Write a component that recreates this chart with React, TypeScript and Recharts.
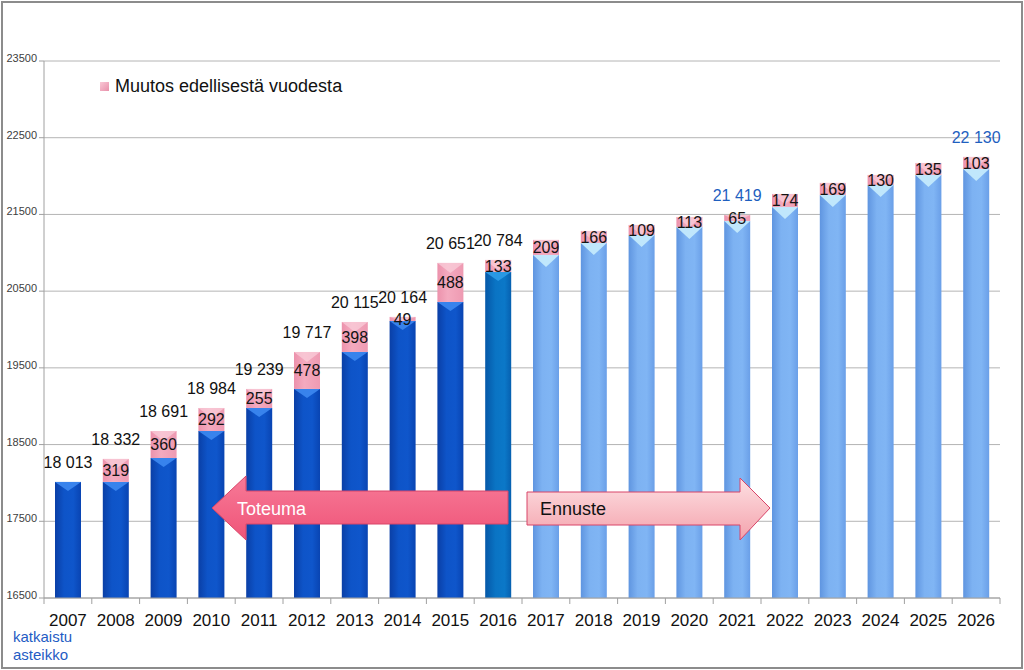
import React from 'react';
import { BarChart, Bar, XAxis, YAxis, CartesianGrid, LabelList } from 'recharts';

// ---- data ----
const years = ['2007', '2008', '2009', '2010', '2011', '2012', '2013', '2014', '2015', '2016',
  '2017', '2018', '2019', '2020', '2021', '2022', '2023', '2024', '2025', '2026'];
// blue part: previous year's level
const previousLevel = [18013, 18013, 18325, 18677, 18977, 19225, 19707, 20111, 20359, 20750,
  20972, 21128, 21233, 21337, 21415, 21598, 21754, 21885, 22015, 22093];
// pink part: change from previous year
const changeFromPrevious = [0, 300, 352, 300, 248, 482, 391, 53, 509, 157,
  196, 157, 130, 130, 78, 169, 157, 130, 156, 157];
const changeLabels = ['', '319', '360', '292', '255', '478', '398', '49', '488', '133',
  '209', '166', '109', '113', '65', '174', '169', '130', '135', '103'];
const actualTotalLabels = ['18 013', '18 332', '18 691', '18 984', '19 239', '19 717', '20 115', '20 164', '20 651', '20 784',
  '', '', '', '', '', '', '', '', '', ''];
const forecastTotalLabels = ['', '', '', '', '', '', '', '', '', '',
  '', '', '', '', '21 419', '', '', '', '', '22 130'];
const phases = ['actual', 'actual', 'actual', 'actual', 'actual', 'actual', 'actual', 'actual', 'actual', 'current',
  'forecast', 'forecast', 'forecast', 'forecast', 'forecast', 'forecast', 'forecast', 'forecast', 'forecast', 'forecast'];
const yTicks = [16500, 17500, 18500, 19500, 20500, 21500, 22500, 23500];
const legendLabel = 'Muutos edellisestä vuodesta';

const data = years.map((year, i) => ({
  year,
  base: previousLevel[i],
  change: changeFromPrevious[i],
  changeLabel: changeLabels[i],
  actualTotal: actualTotalLabels[i],
  forecastTotal: forecastTotalLabels[i],
  phase: phases[i],
}));

// ---- layout / style ----
const W = 1024;
const H = 670;
const MARGIN = { top: 61, right: 24, bottom: 42, left: 0 };
const X_AXIS_H = 30;
const PLOT_BOTTOM = H - MARGIN.bottom - X_AXIS_H;
const FONT = '"Liberation Sans", Arial, sans-serif';

const capColor: Record<string, string> = {
  actual: '#3b86ee',
  current: '#2a9ae6',
  forecast: '#c4eafc',
};
const capHeight: Record<string, number> = { actual: 9, current: 9, forecast: 12 };

const BaseShape = (props: any) => {
  const { x, y, width, height } = props;
  const phase = (props.payload && props.payload.phase) || phases[props.index ?? 0];
  if (width == null || y == null) return null;
  const bottom = Math.min(y + height, PLOT_BOTTOM);
  const h = Math.max(0, bottom - y);
  const ch = capHeight[phase];
  return (
    <g>
      <rect x={x} y={y} width={width} height={h} fill={`url(#grad-${phase})`} />
      <polygon
        points={`${x},${y} ${x + width},${y} ${x + width / 2},${y + ch}`}
        fill={capColor[phase]}
        opacity={0.95}
      />
    </g>
  );
};

const ChangeShape = (props: any) => {
  const { x, y, width, height } = props;
  if (!height || height <= 0) return null;
  const ch = Math.min(height, 10);
  return (
    <g>
      <rect x={x} y={y} width={width} height={height} fill="url(#grad-pink)" />
      <polygon
        points={`${x},${y} ${x + width},${y} ${x + width / 2},${y + ch}`}
        fill="#f9d0dc"
        opacity={0.7}
      />
    </g>
  );
};

const makeTotalLabel = (color: string) => (props: any) => {
  const { x, y, width, value } = props;
  if (!value) return null;
  return (
    <text
      x={x + width / 2}
      y={y - 14}
      textAnchor="middle"
      fontSize={16}
      fontFamily={FONT}
      fill={color}
    >
      {value}
    </text>
  );
};

const ChangeLabel = (props: any) => {
  const { x, y, width, height, value } = props;
  if (!value) return null;
  return (
    <text
      x={x + width / 2}
      y={y + height / 2 + 6}
      textAnchor="middle"
      fontSize={16}
      fontFamily={FONT}
      fill="#141414"
    >
      {value}
    </text>
  );
};

const BAND = (W - MARGIN.right - 44) / years.length;

const XTick = (props: any) => {
  const { x, payload, index } = props;
  return (
    <g>
      <line x1={x - BAND / 2} y1={PLOT_BOTTOM} x2={x - BAND / 2} y2={PLOT_BOTTOM + 6} stroke="#a0a0a0" />
      {index === years.length - 1 && (
        <line x1={x + BAND / 2} y1={PLOT_BOTTOM} x2={x + BAND / 2} y2={PLOT_BOTTOM + 6} stroke="#a0a0a0" />
      )}
      <text x={x} y={PLOT_BOTTOM + 28} textAnchor="middle" fontSize={17} fontFamily={FONT} fill="#111">
        {payload.value}
      </text>
    </g>
  );
};

const YTick = (props: any) => {
  const { x, y, payload } = props;
  return (
    <text x={x} y={y + 1} textAnchor="end" fontSize={11} fontFamily={FONT} fill="#404040">
      {payload.value}
    </text>
  );
};

export default function App() {
  return (
    <div style={{ position: 'relative', width: W, height: H, fontFamily: FONT, background: '#fff' }}>
      <style>{`body{margin:0}`}</style>
      <svg width={0} height={0} style={{ position: 'absolute' }}>
        <defs>
          <linearGradient id="grad-actual" x1="0" y1="0" x2="1" y2="0">
            <stop offset="0%" stopColor="#0a3fa6" />
            <stop offset="35%" stopColor="#0e54c8" />
            <stop offset="70%" stopColor="#0f56cb" />
            <stop offset="100%" stopColor="#0944b2" />
          </linearGradient>
          <linearGradient id="grad-current" x1="0" y1="0" x2="1" y2="0">
            <stop offset="0%" stopColor="#0558a8" />
            <stop offset="40%" stopColor="#0a74c4" />
            <stop offset="75%" stopColor="#0b78c8" />
            <stop offset="100%" stopColor="#0660b0" />
          </linearGradient>
          <linearGradient id="grad-forecast" x1="0" y1="0" x2="1" y2="0">
            <stop offset="0%" stopColor="#5f95e0" />
            <stop offset="35%" stopColor="#7db2f2" />
            <stop offset="70%" stopColor="#80b5f4" />
            <stop offset="100%" stopColor="#6a9fe8" />
          </linearGradient>
          <linearGradient id="grad-pink" x1="0" y1="0" x2="1" y2="0">
            <stop offset="0%" stopColor="#ec92ac" />
            <stop offset="40%" stopColor="#f4aabf" />
            <stop offset="100%" stopColor="#ee9ab2" />
          </linearGradient>
          <linearGradient id="grad-toteuma" x1="0" y1="0" x2="0" y2="1">
            <stop offset="0%" stopColor="#f77a98" />
            <stop offset="100%" stopColor="#ef5478" />
          </linearGradient>
          <linearGradient id="grad-ennuste" x1="0" y1="0" x2="0" y2="1">
            <stop offset="0%" stopColor="#fde0e3" />
            <stop offset="100%" stopColor="#f4a2ac" />
          </linearGradient>
        </defs>
      </svg>
      <BarChart width={W} height={H} data={data} margin={MARGIN} barSize={26}>
        <CartesianGrid vertical={false} stroke="#b4b4b4" />
        <XAxis
          dataKey="year"
          height={X_AXIS_H}
          stroke="#a0a0a0"
          tickLine={false}
          tick={<XTick />}
          interval={0}
        />
        <YAxis
          width={44}
          domain={[16500, 23500]}
          ticks={yTicks}
          allowDataOverflow
          stroke="#a0a0a0"
          tickSize={5}
          tickLine={{ stroke: '#a0a0a0' }}
          tick={<YTick />}
        />
        <Bar dataKey="base" stackId="a" shape={<BaseShape />} isAnimationActive={false} legendType="none" />
        <Bar
          dataKey="change"
          stackId="a"
          name={legendLabel}
          shape={<ChangeShape />}
          isAnimationActive={false}
        >
          <LabelList dataKey="changeLabel" content={<ChangeLabel />} />
          <LabelList dataKey="actualTotal" content={makeTotalLabel('#111')} />
          <LabelList dataKey="forecastTotal" content={makeTotalLabel('#1f5fbf')} />
        </Bar>
      </BarChart>
      {/* legend */}
      <div
        style={{
          position: 'absolute',
          left: 100,
          top: 76,
          display: 'flex',
          alignItems: 'center',
          fontFamily: FONT,
          fontSize: 18,
          color: '#111',
          whiteSpace: 'nowrap',
        }}
      >
        <span
          style={{
            display: 'inline-block',
            width: 9,
            height: 9,
            background: 'linear-gradient(135deg,#f9c8d6,#e890aa)',
            marginRight: 6,
          }}
        />
        {legendLabel}
      </div>
      {/* overlay: arrows, note, frame */}
      <svg width={W} height={H} style={{ position: 'absolute', left: 0, top: 0, pointerEvents: 'none' }}>
        <polygon
          points="212,508 246,476 246,491 508,491 508,524 246,524 246,540"
          fill="url(#grad-toteuma)"
          stroke="#d84468"
          strokeWidth={1}
        />
        <text x={237} y={515} fontSize={18} fontFamily={FONT} fill="#fff">Toteuma</text>
        <polygon
          points="527,492 740,492 740,478 770,508 740,540 740,525 527,525"
          fill="url(#grad-ennuste)"
          stroke="#d84468"
          strokeWidth={1}
        />
        <text x={540} y={515} fontSize={18} fontFamily={FONT} fill="#111">Ennuste</text>
        <text x={13} y={642} fontSize={15} fontFamily={FONT} fill="#1f5cc4">katkaistu</text>
        <text x={13} y={660} fontSize={15} fontFamily={FONT} fill="#1f5cc4">asteikko</text>
        <rect x={2} y={2} width={W - 4} height={H - 4} fill="none" stroke="#8c8c8c" strokeWidth={2} />
      </svg>
    </div>
  );
}
